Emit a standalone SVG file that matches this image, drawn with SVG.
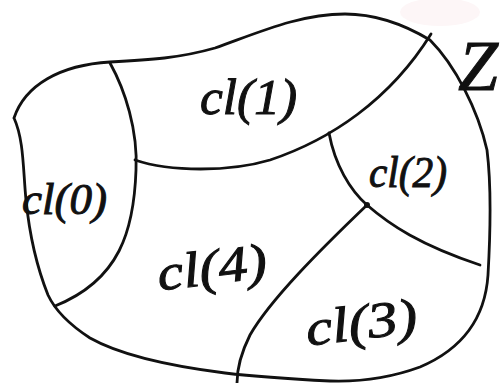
<svg xmlns="http://www.w3.org/2000/svg" width="503" height="383" viewBox="0 0 503 383">
<style>
.ln{fill:none;stroke:#111;stroke-width:2.8;stroke-linecap:round;stroke-linejoin:round}
.lb{font-family:"Liberation Serif",serif;font-style:italic;fill:#111;stroke:#111;stroke-width:1}
</style>
<rect width="503" height="383" fill="#ffffff"/>
<ellipse cx="440" cy="12" rx="40" ry="14" fill="#fdf6f7"/>
<g id="connectors">
<path class="ln" d="M14,118 C25,85 60,65 110,62 C150,60 180,58 215,48 C260,32 300,14 345,14 C380,14 410,28 430,40 C455,65 478,110 487,150 C492,190 490,240 488,275 C485,320 460,350 420,367 C390,378 360,382 330,381 C290,379 250,376 225,373 C170,366 120,355 90,338 C70,325 55,310 48,295 C38,270 30,240 26,200 C23,170 24,140 14,118"/>
<path class="ln" d="M110,63 C125,90 138,130 136,170 C134,230 120,280 55,306"/>
<path class="ln" d="M135,160 C170,172 230,172 270,160 C330,140 390,100 431,34"/>
<path class="ln" d="M329,133 C335,165 350,190 367,205 C390,225 420,245 480,265"/>
<path class="ln" d="M367,205 C320,250 270,300 250,335 C240,355 237,370 237,383"/>
<circle cx="367" cy="205" r="3" fill="#111"/>
</g>
<g id="cl0"><text class="lb" x="22" y="214" font-size="44" textLength="85" lengthAdjust="spacingAndGlyphs">cl(0)</text></g>
<g id="cl1"><text class="lb" x="200" y="114" font-size="50" textLength="97" lengthAdjust="spacingAndGlyphs">cl(1)</text></g>
<g id="cl2"><text class="lb" x="369" y="187" font-size="44" textLength="78" lengthAdjust="spacingAndGlyphs">cl(2)</text></g>
<g id="cl4"><text class="lb" x="157" y="284" font-size="50" textLength="110" lengthAdjust="spacingAndGlyphs" transform="rotate(-7 212 268)">cl(4)</text></g>
<g id="cl3"><text class="lb" x="305" y="339" font-size="50" textLength="112" lengthAdjust="spacingAndGlyphs" transform="rotate(-7 361 320)">cl(3)</text></g>
<g id="zmark"><text class="lb" x="458" y="90" font-size="72" stroke-width="1.6">Z</text></g>
</svg>
